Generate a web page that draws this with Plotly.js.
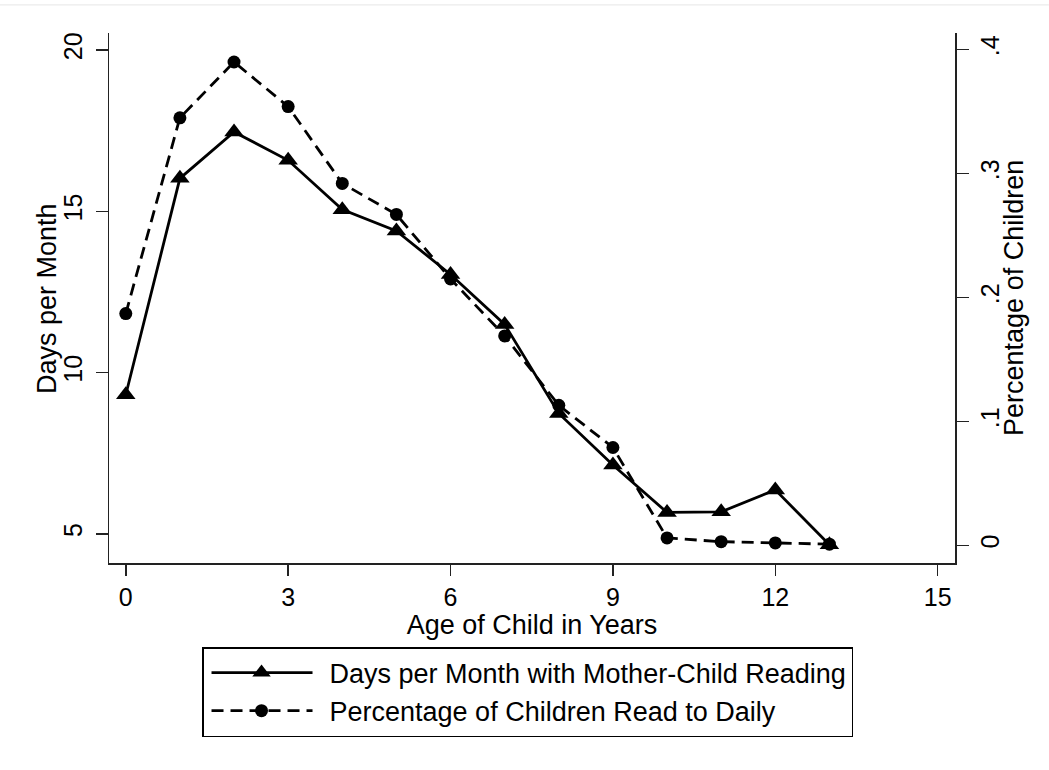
<!DOCTYPE html>
<html>
<head>
<meta charset="utf-8">
<script src="https://cdn.plot.ly/plotly-3.0.1.min.js"></script>
<style>html,body{margin:0;padding:0;background:#fff;}#chart{width:1049px;height:770px;}</style>
</head>
<body>
<div id="chart"></div>
<script>
const ages = [0, 1, 2, 3, 4, 5, 6, 7, 8, 9, 10, 11, 12, 13];
const daysPerMonth = [9.31, 16.02, 17.46, 16.58, 15.05, 14.39, 13.04, 11.49, 8.73, 7.13, 5.66, 5.68, 6.36, 4.66];
const pctReadDaily = [0.187, 0.345, 0.390, 0.354, 0.292, 0.267, 0.215, 0.169, 0.113, 0.079, 0.006, 0.003, 0.002, 0.001];
const xTicks = [0, 3, 6, 9, 12, 15];
const yLeftTicks = [5, 10, 15, 20];
const yRightTicks = [0, 0.1, 0.2, 0.3, 0.4];
const yRightTickText = ['0', '.1', '.2', '.3', '.4'];
const seriesNames = ['Days per Month with Mother-Child Reading', 'Percentage of Children Read to Daily'];
const axisTitles = {x: 'Age of Child in Years', yLeft: 'Days per Month', yRight: 'Percentage of Children'};

const FONT = 'Liberation Sans, Arial, sans-serif';
const axisColor = '#222';

const traces = [
  {
    x: ages, y: daysPerMonth, name: seriesNames[0], type: 'scatter', mode: 'lines+markers',
    line: {color: '#000', width: 2.8},
    marker: {symbol: 'triangle-up', size: 17, color: '#000'},
    yaxis: 'y'
  },
  {
    x: ages, y: pctReadDaily, name: seriesNames[1], type: 'scatter', mode: 'lines+markers',
    line: {color: '#000', width: 2.8, dash: '12px,7px'},
    marker: {symbol: 'circle', size: 13, color: '#000'},
    yaxis: 'y2'
  }
];

const layout = {
  width: 1049, height: 770,
  paper_bgcolor: '#fff', plot_bgcolor: '#fff',
  margin: {l: 109, r: 94, t: 33, b: 207, autoexpand: false},
  font: {family: FONT, size: 25, color: '#000'},
  showlegend: true,
  xaxis: {
    range: [-0.31, 15.32], tickvals: xTicks, ticktext: xTicks.map(String),
    showgrid: false, zeroline: false, showline: true, linecolor: axisColor, linewidth: 1.5,
    ticks: 'outside', ticklen: 11, tickwidth: 1.5, tickcolor: axisColor,
    tickfont: {size: 25}, automargin: false,
    title: {text: axisTitles.x, font: {size: 27}, standoff: 0}
  },
  yaxis: {
    range: [4.093, 20.527], tickvals: yLeftTicks, ticktext: yLeftTicks.map(String),
    showgrid: false, zeroline: false, showline: true, linecolor: axisColor, linewidth: 1.5,
    ticks: 'outside', ticklen: 12, tickwidth: 1.5, tickcolor: axisColor,
    tickangle: -90, tickfont: {size: 25}, automargin: false, ticklabelstandoff: 4
  },
  yaxis2: {
    overlaying: 'y', side: 'right',
    range: [-0.0142, 0.4134], tickvals: yRightTicks, ticktext: yRightTickText,
    showgrid: false, zeroline: false, showline: true, linecolor: axisColor, linewidth: 1.5,
    ticks: 'outside', ticklen: 12, tickwidth: 1.5, tickcolor: axisColor,
    tickangle: -90, tickfont: {size: 25}, automargin: false, ticklabelstandoff: 0
  },
  annotations: [
    {text: axisTitles.yLeft, xref: 'paper', yref: 'paper', x: -0.0733, y: 0.5,
     xanchor: 'center', yanchor: 'middle', textangle: -90, showarrow: false, font: {size: 27}},
    {text: axisTitles.yRight, xref: 'paper', yref: 'paper', x: 1.0697, y: 0.5,
     xanchor: 'center', yanchor: 'middle', textangle: -90, showarrow: false, font: {size: 27}}
  ],
  legend: {
    orientation: 'v', x: 0.4947, xanchor: 'center', y: -0.1585, yanchor: 'top',
    bordercolor: '#000', borderwidth: 1.5, bgcolor: '#fff',
    font: {size: 27, family: FONT}, traceorder: 'normal', itemwidth: 116
  },
  shapes: [
    {type: 'line', xref: 'paper', yref: 'paper', x0: -0.129, x1: 1.111, y0: 1.053, y1: 1.053,
     line: {color: '#e6e6e6', width: 1}}
  ]
};

Plotly.newPlot('chart', traces, layout, {displayModeBar: false, staticPlot: true}).then(function (gd) {
  // lengthen the legend key samples like the original
  gd.querySelectorAll('.legend .traces').forEach(function (tr) {
    tr.querySelectorAll('.legendlines path').forEach(function (p) { p.setAttribute('d', 'M8,0h101'); });
    tr.querySelectorAll('.legendpoints path').forEach(function (p) { p.setAttribute('transform', 'translate(58,0)'); });
  });
});
</script>
</body>
</html>
